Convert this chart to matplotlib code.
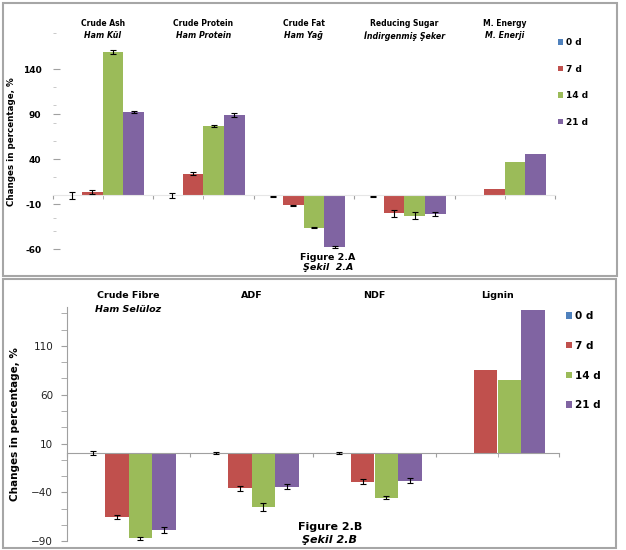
import numpy as np
import matplotlib
matplotlib.use('Agg')
import matplotlib.pyplot as plt
from matplotlib.patches import Rectangle
from matplotlib.ticker import MultipleLocator, FixedLocator
import matplotlib.transforms as mtransforms

# Panel A data
cats_a = ['Crude Ash', 'Crude Protein', 'Crude Fat', 'Reducing Sugar', 'M. Energy']
cats_a_tr = ['Ham Kül', 'Ham Protein', 'Ham Yağ', 'İndirgenmiş Şeker', 'M. Enerji']
a_0d = [0, 0, -1, -1, 0]
a_7d = [4, 24, -11, -20, 7]
a_14d = [159, 77, -36, -22.5, 37]
a_21d = [93, 89, -57, -21, 45.5]
a_0d_err = [4, 3, 0.5, 0.4, 0]
a_7d_err = [2, 1.5, 0.6, 4, 0]
a_14d_err = [2.5, 1, 0.6, 4, 0]
a_21d_err = [1, 2.5, 1, 2.5, 0]

# Panel B data
cats_b = ['Crude Fibre', 'ADF', 'NDF', 'Lignin']
cats_b_tr = ['Ham Selüloz', '', '', '']
b_0d = [0.3, 0.3, 0.3, 0]
b_7d = [-65.5, -36, -29, 85]
b_14d = [-87, -55.5, -45.5, 75.5]
b_21d = [-78.5, -34.5, -28, 146.5]
b_0d_err = [2.5, 0.8, 0.8, 0]
b_7d_err = [2, 2.5, 2.5, 0]
b_14d_err = [1.5, 4, 1.5, 0]
b_21d_err = [3, 2.5, 3, 0]

series = ['0 d', '7 d', '14 d', '21 d']
colors = ['#4F81BD', '#C0504D', '#9BBB59', '#8064A2']

fig = plt.figure(figsize=(6.26, 5.5), dpi=100)

# panel borders
for (x0, y0, x1, y1) in [(3, 3, 617, 276), (3, 279, 616, 548)]:
    fig.patches.append(Rectangle((x0 / 626, 1 - y1 / 550), (x1 - x0) / 626, (y1 - y0) / 550,
                                 transform=fig.transFigure, fill=False,
                                 edgecolor='#A6A6A6', linewidth=1.5))


def draw_panel(ax, vals, errs, width):
    n = len(vals[0])
    x = np.arange(n)
    for i in range(4):
        pos = x + (i - 1.5) * width
        ax.bar(pos, vals[i], width, color=colors[i], label=series[i], zorder=2)
        e = np.array(errs[i])
        mask = e > 0
        ax.errorbar(pos[mask], np.array(vals[i])[mask], yerr=e[mask], fmt='none',
                    ecolor='black', elinewidth=0.8, capsize=2, capthick=0.8, zorder=3)
    ax.set_xlim(-0.5, n - 0.5)
    ax.xaxis.set_major_locator(FixedLocator(np.arange(n + 1) - 0.5))
    ax.xaxis.set_minor_locator(FixedLocator(x))
    ax.set_xticklabels([])
    ax.spines['top'].set_visible(False)
    ax.spines['right'].set_visible(False)
    ax.spines['bottom'].set_position(('data', 0))
    ax.tick_params(axis='x', which='both', direction='out', length=3, color='#A0A0A0')


# ---------------- Panel A ----------------
axA = fig.add_axes([52.5 / 626, 1 - 249.3 / 550, 502.5 / 626, 216 / 550])
draw_panel(axA, [a_0d, a_7d, a_14d, a_21d], [a_0d_err, a_7d_err, a_14d_err, a_21d_err], 0.206)
axA.set_ylim(-60, 180)
axA.yaxis.set_major_locator(FixedLocator([-60, -10, 40, 90, 140]))
axA.set_yticklabels(['-60', '-10', '40', '90', '140'])
axA.yaxis.set_minor_locator(FixedLocator([-40, -25, 20, 60, 80, 100, 120, 180]))
axA.spines['left'].set_visible(False)
axA.spines['bottom'].set_color('#E6E6E6')
axA.tick_params(axis='y', which='major', direction='in', length=5, color='#A0A0A0',
                labelsize=6.5, pad=8)
axA.tick_params(axis='y', which='minor', direction='in', length=2.5, color='#C0C0C0')
for lbl in axA.get_yticklabels():
    lbl.set_fontweight('bold')
axA.set_ylabel('Changes in percentage, %', fontsize=6.3, fontweight='bold')
axA.yaxis.set_label_coords(-0.073, 0.5)

trA = mtransforms.blended_transform_factory(axA.transData, fig.transFigure)
for i in range(len(cats_a)):
    axA.text(i, 1 - 23 / 550, cats_a[i], transform=trA, ha='center', va='center',
             fontsize=5.5, fontweight='bold')
    axA.text(i, 1 - 36 / 550, cats_a_tr[i], transform=trA, ha='center', va='center',
             fontsize=5.7, fontweight='bold', style='italic')

legA = axA.legend(loc='upper left', bbox_to_anchor=(558 / 626, 1 - 38 / 550),
                  bbox_transform=fig.transFigure, frameon=False, fontsize=6.5,
                  handlelength=0.6, handleheight=0.6, handletextpad=0.3, labelspacing=1.95,
                  borderaxespad=0, borderpad=0)
for t in legA.get_texts():
    t.set_fontweight('bold')

fig.text(328 / 626, 1 - 257 / 550, 'Figure 2.A', ha='center', va='center',
         fontsize=6.8, fontweight='bold')
fig.text(328 / 626, 1 - 267 / 550, 'Şekil  2.A', ha='center', va='center',
         fontsize=6.8, fontweight='bold', style='italic')

# ---------------- Panel B ----------------
axB = fig.add_axes([67 / 626, 1 - 541 / 550, 492 / 626, 234 / 550])
draw_panel(axB, [b_0d, b_7d, b_14d, b_21d], [b_0d_err, b_7d_err, b_14d_err, b_21d_err], 0.195)
axB.set_ylim(-90, 150)
axB.yaxis.set_major_locator(FixedLocator([-90, -40, 10, 60, 110]))
axB.yaxis.set_minor_locator(FixedLocator(np.arange(-90, 151, 50 / 3)))
axB.spines['left'].set_color('#A0A0A0')
axB.spines['bottom'].set_color('#A0A0A0')
axB.tick_params(axis='y', which='both', direction='out', length=4, color='#A0A0A0',
                labelsize=7.5, pad=6, labelcolor='#222222')
axB.set_ylabel('Changes in percentage, %', fontsize=7.5, fontweight='bold')
axB.yaxis.set_label_coords(-0.095, 0.5)

trB = mtransforms.blended_transform_factory(axB.transData, fig.transFigure)
for i in range(len(cats_b)):
    axB.text(i, 1 - 296 / 550, cats_b[i], transform=trB, ha='center', va='center',
             fontsize=6.8, fontweight='bold')
    if cats_b_tr[i]:
        axB.text(i, 1 - 310 / 550, cats_b_tr[i], transform=trB, ha='center', va='center',
                 fontsize=6.8, fontweight='bold', style='italic')

legB = axB.legend(loc='upper left', bbox_to_anchor=(566 / 626, 1 - 311 / 550),
                  bbox_transform=fig.transFigure, frameon=False, fontsize=7.5,
                  handlelength=0.6, handleheight=0.6, handletextpad=0.3, labelspacing=1.9,
                  borderaxespad=0, borderpad=0)
for t in legB.get_texts():
    t.set_fontweight('bold')

fig.text(330 / 626, 1 - 527 / 550, 'Figure 2.B', ha='center', va='center',
         fontsize=8, fontweight='bold')
fig.text(330 / 626, 1 - 540 / 550, 'Şekil 2.B', ha='center', va='center',
         fontsize=8, fontweight='bold', style='italic')

fig.savefig('out.png', dpi=100)
